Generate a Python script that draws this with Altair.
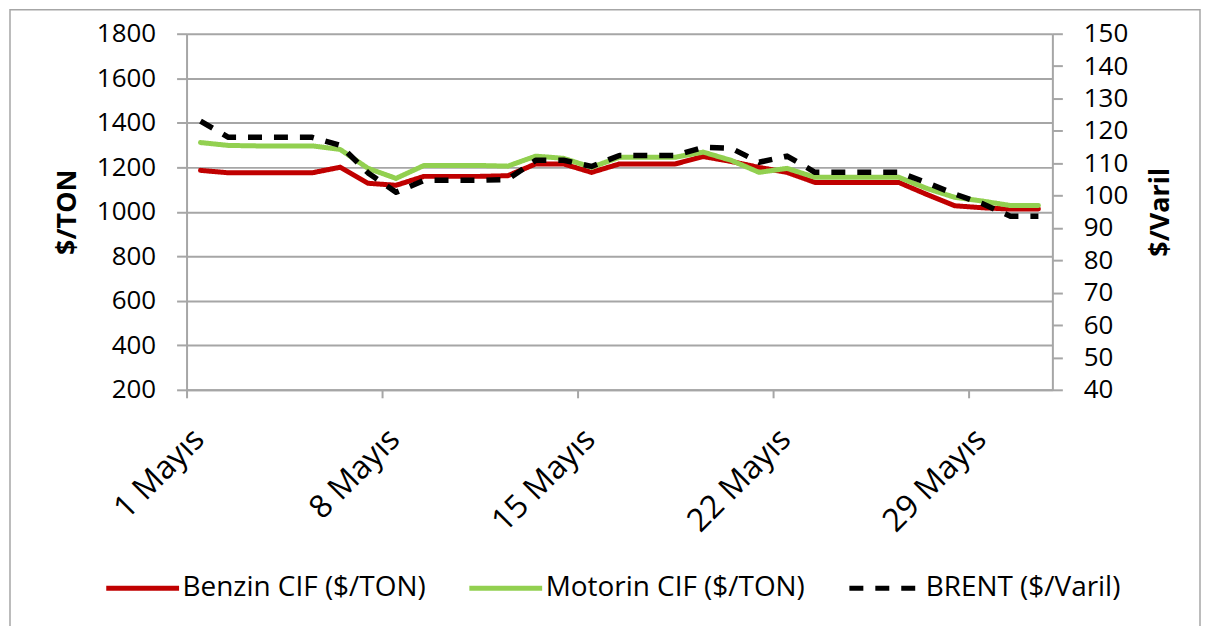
import altair as alt
import pandas as pd

# ---- data ----
days = list(range(1, 32))
benzin = [1186, 1175, 1175, 1175, 1175, 1200, 1128, 1119, 1159, 1159, 1159, 1162,
          1215, 1215, 1177, 1215, 1215, 1215, 1248, 1226, 1199, 1177, 1132, 1132,
          1132, 1132, 1078, 1027, 1018, 1012, 1012]
motorin = [1311, 1298, 1296, 1296, 1296, 1280, 1195, 1150, 1208, 1208, 1208, 1205,
           1250, 1240, 1200, 1245, 1245, 1245, 1268, 1231, 1177, 1195, 1155, 1155,
           1155, 1155, 1105, 1065, 1048, 1028, 1028]
brent = [123.0, 118.0, 118.0, 118.0, 118.0, 115.5, 107.0, 101.0, 104.7, 104.7, 104.7, 105.0,
         110.9, 110.9, 109.0, 112.4, 112.4, 112.4, 114.9, 114.6, 110.3, 112.2, 107.2, 107.2,
         107.2, 107.2, 104.0, 100.5, 97.5, 93.6, 93.6]
tick_days = [1, 8, 15, 22, 29]
series_names = ["Benzin CIF ($/TON)", "Motorin CIF ($/TON)", "BRENT ($/Varil)"]
series_colors = ["#c00000", "#92d050", "#000000"]
series_dash = [[1, 0], [1, 0], [14, 12]]
left_ticks = list(range(200, 1801, 200))
right_ticks = list(range(40, 151, 10))

FONT = "Open Sans"
FS = 26
XFS = 32
LFS = 28
GRAY = "#a6a6a6"

dates = [f"2022-05-{d:02d}T12:00:00" for d in days]
ton_df = pd.DataFrame({
    "date": dates * 2,
    "value": benzin + motorin,
    "series": [series_names[0]] * len(days) + [series_names[1]] * len(days),
})
brent_df = pd.DataFrame({"date": dates, "value": brent, "series": [series_names[2]] * len(days)})

W, H = 868, 357

legend = alt.Legend(
    title=None, orient="none", legendX=-83, legendY=517, direction="horizontal",
    symbolType="stroke", symbolSize=5329, symbolStrokeWidth=5,
    labelFontSize=LFS, labelFont=FONT, labelColor="#000000", labelLimit=0,
    columnPadding=33, labelOffset=1,
)
color = alt.Color("series:N", scale=alt.Scale(domain=series_names, range=series_colors), legend=legend)
dash = alt.StrokeDash("series:N", scale=alt.Scale(domain=series_names, range=series_dash), legend=legend)

x_enc = alt.X(
    "date:T",
    scale=alt.Scale(domain=[alt.DateTime(year=2022, month=5, date=1),
                            alt.DateTime(year=2022, month=6, date=1)]),
    axis=alt.Axis(
        values=[alt.DateTime(year=2022, month=5, date=d) for d in tick_days],
        labelExpr="date(datum.value) + ' Mayıs'",
        labelAngle=315, labelAlign="right", labelBaseline="middle",
        labelPadding=36, labelOffset=12, tickSize=8, grid=False, title=None,
        labelFontSize=XFS, labelFont=FONT, labelColor="#000000",
        domainColor=GRAY, domainWidth=2, tickColor=GRAY, tickWidth=2,
    ),
)

common_axis = dict(labelFontSize=FS, labelFont=FONT, labelColor="#000000", format="d",
                   titleFont=FONT, titleFontSize=27, titleFontWeight="bold", titleColor="#000000",
                   titleAngle=270, titleAlign="center", titleBaseline="middle", titleY=H / 2,
                   domainColor=GRAY, domainWidth=2, tickColor=GRAY, tickWidth=2, tickSize=10,
                   labelPadding=21, labelOverlap=False)

ton = alt.Chart(ton_df).mark_line(strokeWidth=5, strokeJoin="round", strokeCap="round").encode(
    x=x_enc,
    y=alt.Y("value:Q", scale=alt.Scale(domain=[200, 1800], nice=False, zero=False),
            axis=alt.Axis(orient="left", values=left_ticks, grid=True, gridColor=GRAY, gridWidth=2,
                          title="$/TON", titleX=-119, **common_axis)),
    color=color, strokeDash=dash,
)

br = alt.Chart(brent_df).mark_line(strokeWidth=5.5, strokeJoin="round", strokeCap="butt").encode(
    x=x_enc,
    y=alt.Y("value:Q", scale=alt.Scale(domain=[40, 150], nice=False, zero=False),
            axis=alt.Axis(orient="right", values=right_ticks, grid=False,
                          title="$/Varil", titleX=108, **common_axis)),
    color=color, strokeDash=dash,
)

border = alt.Chart(pd.DataFrame({"k": [0]})).mark_rect(
    fill="transparent", stroke=GRAY, strokeWidth=1.5
).encode(x=alt.value(-177), x2=alt.value(1016), y=alt.value(-24), y2=alt.value(595))

chart = alt.layer(border, ton, br).resolve_scale(y="independent").properties(
    width=W, height=H,
    padding={"left": 179, "top": 25, "right": 150, "bottom": 236},
    autosize=alt.AutoSizeParams(type="none"),
).configure_view(strokeWidth=0)

chart.save("out.html", embed_options={"renderer": "svg", "actions": False})
